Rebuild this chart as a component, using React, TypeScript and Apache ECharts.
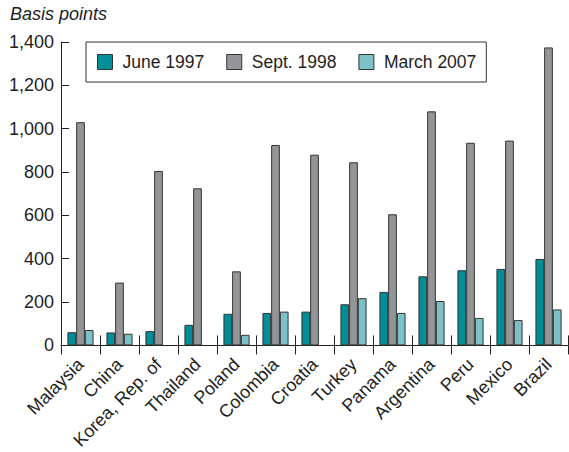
import React, { useEffect, useRef } from "react";
import * as echarts from "echarts";

const categories = [
  "Malaysia", "China", "Korea, Rep. of", "Thailand", "Poland", "Colombia", "Croatia",
  "Turkey", "Panama", "Argentina", "Peru", "Mexico", "Brazil",
];
const june1997 = [61, 60, 66, 95, 146, 150, 156, 190, 247, 319, 347, 353, 399];
const sept1998 = [1030, 290, 805, 725, 342, 925, 880, 845, 605, 1080, 935, 945, 1375];
const march2007 = [71, 54, null, null, 49, 156, null, 218, 150, 205, 127, 117, 166];
const seriesNames = ["June 1997", "Sept. 1998", "March 2007"];
const yTicks = [0, 200, 400, 600, 800, 1000, 1200, 1400];

const FONT = "'Liberation Sans', Arial, Helvetica, sans-serif";
const colors = ["#008E98", "#939598", "#7CC1C8"];
const FS = 18;
const LFS = 17.5;

export default function App() {
  const ref = useRef<HTMLDivElement>(null);
  useEffect(() => {
    if (!ref.current) return;
    const chart = echarts.init(ref.current, null, { renderer: "svg" });
    const bar = (name: string, data: (number | null)[], color: string) => ({
      name,
      type: "bar",
      xAxisIndex: 0,
      data,
      barGap: "0%",
      barCategoryGap: "33%",
      itemStyle: { color, borderColor: "#333", borderWidth: 1 },
    });
    chart.setOption({
      animation: false,
      textStyle: { fontFamily: FONT },
      title: {
        text: "Basis points",
        left: 10,
        top: 5,
        padding: 0,
        textStyle: { fontStyle: "italic", fontWeight: "normal", fontSize: FS, color: "#1e1e1e", fontFamily: FONT },
      },
      legend: {
        data: seriesNames,
        left: 86,
        top: 42,
        orient: "horizontal",
        itemWidth: 15,
        itemHeight: 15,
        itemGap: 22,
        padding: [11, 10, 11, 11],
        borderColor: "#333",
        borderWidth: 1,
        backgroundColor: "#fff",
        icon: "rect",
        itemStyle: { borderColor: "#333", borderWidth: 1 },
        textStyle: { fontSize: LFS, lineHeight: 16, color: "#1e1e1e", fontFamily: FONT, padding: [0, 0, 0, 5] },
        z: 10,
      },
      grid: { left: 61, right: 1, top: 42, bottom: 106, containLabel: false },
      xAxis: [
        {
          type: "category",
          data: categories,
          position: "bottom",
          axisLine: { show: true, lineStyle: { color: "#222", width: 1 } },
          axisTick: { show: true, inside: false, length: 9, interval: 0, lineStyle: { color: "#222" } },
          axisLabel: { rotate: 45, interval: 0, fontSize: FS, color: "#1e1e1e", margin: 16, fontFamily: FONT },
        },
        {
          type: "category",
          data: categories,
          position: "bottom",
          axisLine: { show: false },
          axisTick: { show: true, inside: true, length: 10, interval: 0, lineStyle: { color: "#222" } },
          axisLabel: { show: false },
        },
      ],
      yAxis: {
        type: "value",
        min: yTicks[0],
        max: yTicks[yTicks.length - 1],
        interval: 200,
        axisLine: { show: true, lineStyle: { color: "#222", width: 1 } },
        axisTick: { show: true, inside: true, length: 8, lineStyle: { color: "#222" } },
        splitLine: { show: false },
        axisLabel: {
          fontSize: FS,
          color: "#1e1e1e",
          margin: 7,
          fontFamily: FONT,
          formatter: (v: number) => v.toLocaleString("en-US"),
        },
      },
      series: [
        bar(seriesNames[0], june1997, colors[0]),
        bar(seriesNames[1], sept1998, colors[1]),
        bar(seriesNames[2], march2007, colors[2]),
      ],
    });
    return () => chart.dispose();
  }, []);
  return (
    <div
      ref={ref}
      style={{ position: "fixed", left: 0, top: 0, width: 569, height: 452, background: "#fff" }}
    />
  );
}
